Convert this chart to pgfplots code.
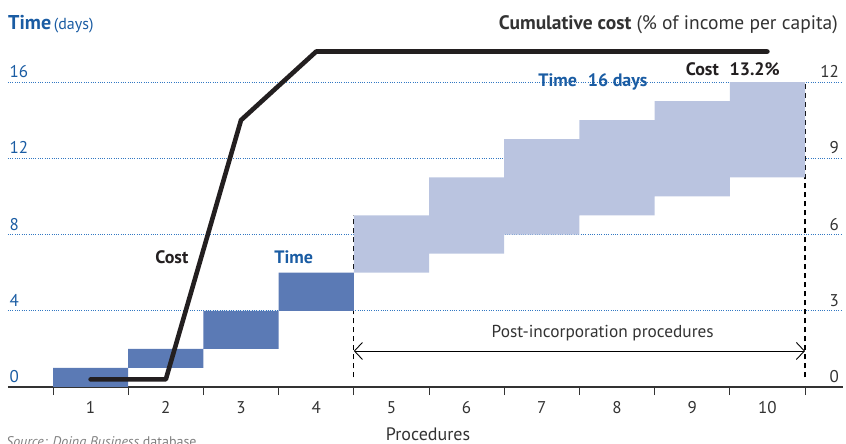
\documentclass[border=0pt]{standalone}
\usepackage{pgfplots}
\pgfplotsset{compat=1.18}
\usepackage{fontspec}
\setmainfont{PT Sans}
\usetikzlibrary{arrows.meta}

\definecolor{dbblue}{RGB}{26,92,163}
\definecolor{darkbar}{RGB}{91,122,181}
\definecolor{lightbar}{RGB}{186,196,224}
\definecolor{gridblue}{RGB}{50,120,195}
\definecolor{costline}{RGB}{35,31,32}
\definecolor{txtgray}{RGB}{51,51,51}

\begin{document}
\begin{tikzpicture}

% time bars (days): invisible start + visible duration
\begin{axis}[
name=ax,
scale only axis,
width=834.7pt, height=343.1pt,
xmin=-0.1, xmax=11, ymin=0, ymax=18,
ybar stacked, bar width=1,
axis lines*=left,
y axis line style={draw=none},
x axis line style={line width=1.3pt, color=txtgray},
/pgf/number format/assume math mode=true,
xtick={1,...,10},
major tick length=0pt,
minor xtick={0.5,1.5,...,10.5},
minor tick length=8pt,
tick align=outside,
minor x tick style={line width=0.8pt, color=txtgray},
xticklabel style={anchor=base, yshift=-27pt, inner sep=0pt, text=txtgray, font=\fontsize{17}{20}\selectfont},
ytick={0,4,8,12,16},
ytick style={draw=none},
ymajorgrids,
major grid style={gridblue, line width=0.9pt, dash pattern=on 0.9pt off 1.4pt},
yticklabel style={anchor=base west, xshift=1.5pt, yshift=4.5pt, inner sep=0pt, text=dbblue, font=\fontsize{17}{20}\selectfont},
clip=false,
]
\addplot[draw=none, fill=none] coordinates {
(1,0) (2,1) (3,2) (4,4) (5,6) (6,7) (7,8) (8,9) (9,10) (10,11)};
\addplot[draw=none, fill=darkbar] coordinates {
(1,1) (2,1) (3,2) (4,2) (5,0) (6,0) (7,0) (8,0) (9,0) (10,0)};
\addplot[draw=none, fill=lightbar] coordinates {
(1,0) (2,0) (3,0) (4,0) (5,3) (6,4) (7,5) (8,5) (9,5) (10,5)};

\draw[line width=1.2pt, dash pattern=on 5pt off 4pt] (axis cs:4.5,0.5) -- (axis cs:4.5,9);
\draw[line width=1.2pt, dash pattern=on 5pt off 4pt] (axis cs:10.5,0.5) -- (axis cs:10.5,16);
\draw[line width=0.9pt, {Straight Barb[length=8pt,width=17pt]}-{Straight Barb[length=8pt,width=17pt]}]
  (axis cs:4.5,1.89) -- (axis cs:10.5,1.89);
\node[anchor=base, inner sep=0pt, text=txtgray, font=\fontsize{17.3}{20}\selectfont]
  at (axis cs:7.81,2.62) {Post-incorporation procedures};

\node[anchor=base, inner sep=0pt, text=costline, font=\bfseries\fontsize{18}{20}\selectfont]
  at (axis cs:2.08,6.5) {Cost};
\node[anchor=base, inner sep=0pt, text=dbblue, font=\bfseries\fontsize{18}{20}\selectfont]
  at (axis cs:3.7,6.5) {Time};
\node[anchor=base, inner sep=0pt, text=dbblue, font=\bfseries\fontsize{18}{20}\selectfont]
  at (axis cs:7.68,15.74) {Time\hspace{0.6em}16 days};
\node[anchor=base, inner sep=0pt, text=costline, font=\bfseries\fontsize{18}{20}\selectfont]
  at (axis cs:9.54,16.32) {Cost\hspace{0.6em}13.2\%};
\end{axis}

% cumulative cost (% of income per capita)
\begin{axis}[
scale only axis,
width=834.7pt, height=343.1pt,
xmin=-0.1, xmax=11, ymin=0, ymax=13.5,
axis x line=none,
axis y line*=right,
y axis line style={draw=none},
/pgf/number format/assume math mode=true,
ytick={0,3,...,12},
ytick style={draw=none},
yticklabel style={anchor=base east, xshift=-3.5pt, yshift=4.5pt, inner sep=0pt, text=txtgray, font=\fontsize{17}{20}\selectfont},
clip=false,
]
\addplot[costline, line width=4.6pt, line cap=round, line join=round] coordinates {
(1,0.3) (2,0.3) (3,10.5) (4,13.2) (5,13.2) (6,13.2) (7,13.2) (8,13.2) (9,13.2) (10,13.2)};
\end{axis}

% texts outside the plot area, in picture pixels
\begin{scope}[shift={(ax.south west)}]
\begin{scope}[xshift=-7.9pt, yshift=387pt, x=1pt, y=-1pt]
\node[anchor=base west, inner sep=0pt, text=dbblue] at (8,30)
  {{\bfseries\fontsize{20}{22}\selectfont Time} {\fontsize{16}{20}\selectfont(days)}};
\node[anchor=base east, inner sep=0pt, text=txtgray, font=\fontsize{19.5}{22}\selectfont] at (838,30)
  {\textbf{Cumulative cost} (\% of income per capita)};
\node[anchor=base, inner sep=0pt, text=txtgray, font=\fontsize{18}{20}\selectfont] at (428,441)
  {Procedures};
\node[anchor=base west, inner sep=0pt, text=gray, font=\fontsize{14}{16}\selectfont] at (6,447)
  {\itshape Source: Doing Business\upshape{} database};
\pgfresetboundingbox
\useasboundingbox (0,0) rectangle (846,444);
\end{scope}
\end{scope}

\end{tikzpicture}
\end{document}
